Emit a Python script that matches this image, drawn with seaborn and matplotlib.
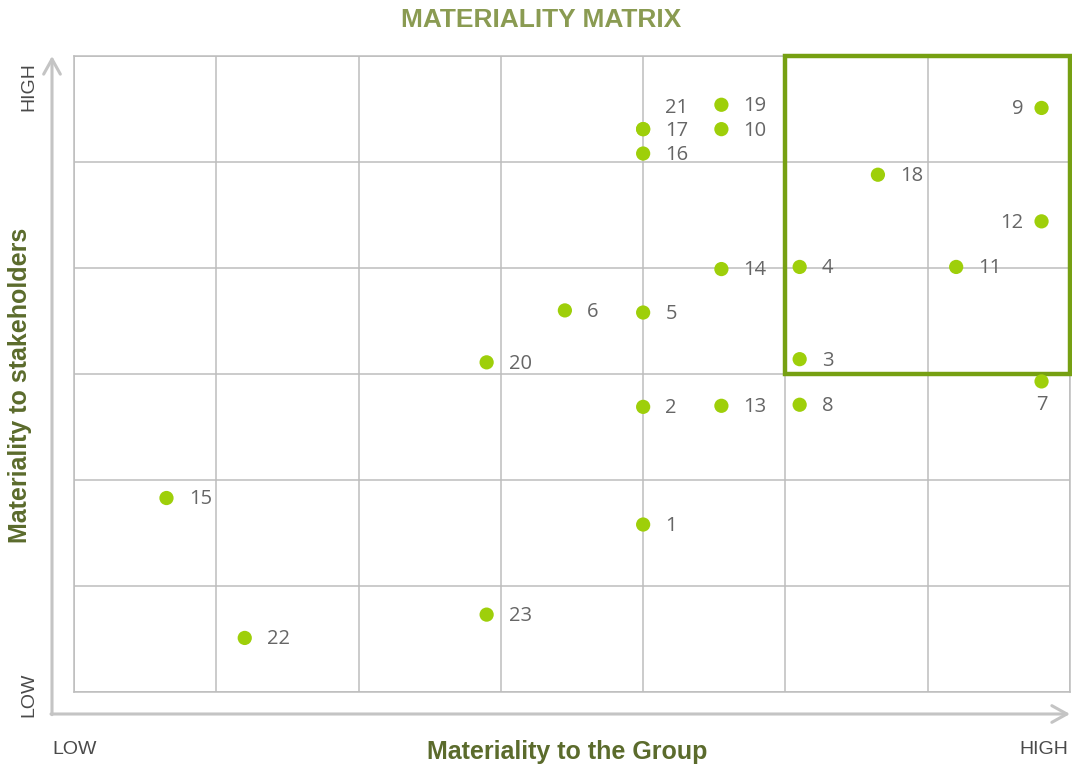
import matplotlib
matplotlib.use("Agg")
import matplotlib.pyplot as plt
import seaborn as sns
import pandas as pd
from matplotlib.patches import Rectangle

# ---- data ----
ids = ["1", "2", "3", "4", "5", "6", "7", "8", "9", "10", "11", "12",
       "13", "14", "15", "16", "17", "18", "19", "20", "21", "22", "23"]
group = [4.0, 4.0, 5.1, 5.1, 4.0, 3.45, 6.8, 5.1, 6.8, 4.55, 6.2, 6.8,
         4.55, 4.55, 0.65, 4.0, 4.0, 5.65, 4.55, 2.9, 4.0, 1.2, 2.9]
stake = [1.58, 2.69, 3.14, 4.01, 3.58, 3.60, 2.93, 2.71, 5.51, 5.31, 4.01, 4.44,
         2.70, 3.99, 1.83, 5.08, 5.31, 4.88, 5.54, 3.11, 5.31, 0.51, 0.73]
label_pos = ["r", "r", "r", "r", "r", "r", "b", "r", "l", "r", "r", "l",
             "r", "r", "r", "r", "r", "r", "r", "r", "ur", "r", "r"]
x_ticks = ["LOW", "HIGH"]
y_ticks = ["LOW", "HIGH"]
title = "MATERIALITY MATRIX"
x_label = "Materiality to the Group"
y_label = "Materiality to stakeholders"

df = pd.DataFrame({"id": ids, "group": group, "stake": stake, "pos": label_pos})

sns.set_theme(style="white")
plt.rcParams["font.family"] = ["Liberation Sans", "DejaVu Sans"]

W, H = 1072, 767
fig = plt.figure(figsize=(W / 100, H / 100), dpi=100)
L, R, T, B = 74, 1070, 56, 692
ax = fig.add_axes([L / W, (H - B) / H, (R - L) / W, (B - T) / H])

ax.set_xlim(0, 7)
ax.set_ylim(0, 6)
ax.set_xticks(range(8))
ax.set_yticks(range(7))
ax.grid(True, color="#bdbdbd", linewidth=1.1)
ax.set_axisbelow(True)
ax.tick_params(left=False, bottom=False, labelleft=False, labelbottom=False)
for s in ax.spines.values():
    s.set_color("#bdbdbd")
    s.set_linewidth(1.1)

# highlight box
ax.add_patch(Rectangle((5, 3), 2, 3, fill=False, edgecolor="#76a012",
                       linewidth=3.2, zorder=3, clip_on=False))

sns.scatterplot(data=df, x="group", y="stake", ax=ax, color="#9ecf0a",
                s=105, edgecolor="none", zorder=4, legend=False, clip_on=False)
ax.set_xlabel("")
ax.set_ylabel("")

num_font = dict(fontsize=14.5, color="#666666", family=["Open Sans", "DejaVu Sans"])
for _, r in df.iterrows():
    if r["pos"] == "r":
        off, ha, va = (16, -1), "left", "center"
    elif r["pos"] == "l":
        off, ha, va = (-13, -1), "right", "center"
    elif r["pos"] == "b":
        off, ha, va = (0, -17), "center", "center"
    else:
        off, ha, va = (16, 15), "left", "center"
    ax.annotate(r["id"], (r["group"], r["stake"]), xytext=off,
                textcoords="offset points", ha=ha, va=va, zorder=5, **num_font)

# axis arrows
ax0x = (52 - L) / (R - L)
ax0y = (B - 714) / (B - T)
arrow = dict(arrowstyle="->,head_length=0.9,head_width=0.5", color="#c4c4c4",
             lw=2.2, shrinkA=0, shrinkB=0)
ax.annotate("", xy=(1.0, ax0y), xytext=(ax0x - 0.001, ax0y), xycoords="axes fraction",
            arrowprops=arrow, annotation_clip=False)
ax.annotate("", xy=(ax0x, 1.0), xytext=(ax0x, ax0y - 0.001), xycoords="axes fraction",
            arrowprops=arrow, annotation_clip=False)

# LOW / HIGH labels
tick_font = dict(fontsize=14, color="#4a4a4a", family=["Liberation Sans", "DejaVu Sans"])
fig.text(52 / W, 1 - 750 / H, x_ticks[0], ha="left", va="center", **tick_font)
fig.text(1068 / W, 1 - 750 / H, x_ticks[1], ha="right", va="center", **tick_font)
fig.text(29 / W, 1 - 717 / H, y_ticks[0], ha="center", va="bottom", rotation=90, **tick_font)
fig.text(29 / W, 1 - 62 / H, y_ticks[1], ha="center", va="top", rotation=90, **tick_font)

fig.text(541 / W, 1 - 20 / H, title, ha="center", va="center", fontsize=19,
         fontweight="bold", color="#8a9b52")
fig.text(567 / W, 1 - 752 / H, x_label, ha="center", va="center", fontsize=18,
         fontweight="bold", color="#5b6b2c")
fig.text(20 / W, 1 - 385 / H, y_label, ha="center", va="center", fontsize=18,
         fontweight="bold", color="#5b6b2c", rotation=90)

fig.savefig("out.png", dpi=100, facecolor="white")
